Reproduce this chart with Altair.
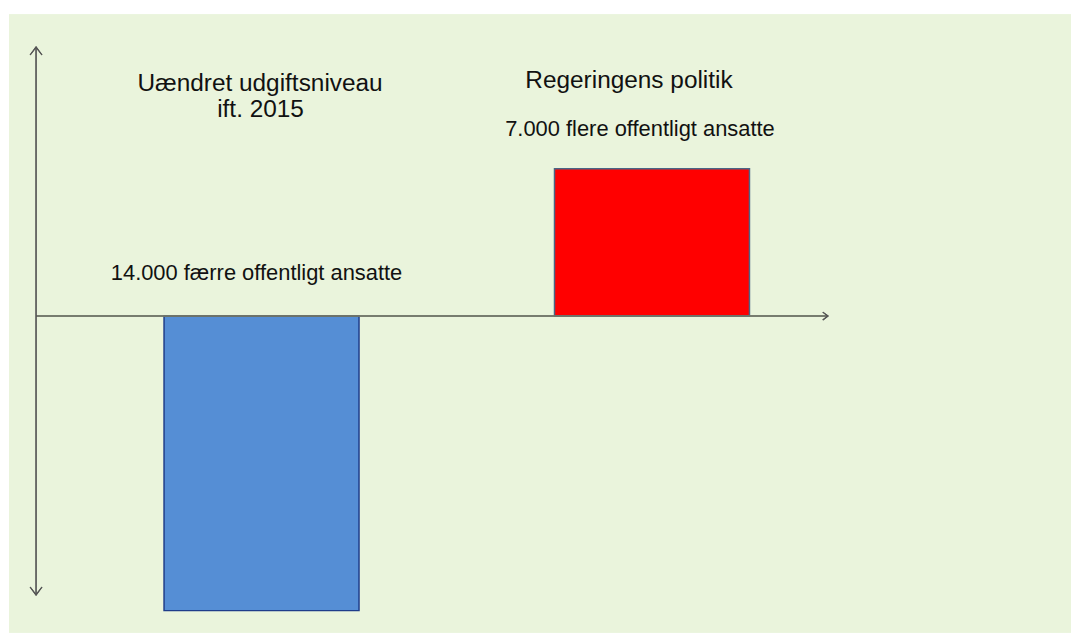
import altair as alt
import pandas as pd

# ---- data ----
categories = ["Uændret udgiftsniveau ift. 2015", "Regeringens politik"]
positions = [0, 1]
values = [-14000, 7000]
title_lines = [["Uændret udgiftsniveau", "ift. 2015"], ["Regeringens politik"]]
value_labels = ["14.000 færre offentligt ansatte", "7.000 flere offentligt ansatte"]

df = pd.DataFrame({"cat": categories, "pos": positions, "val": values,
                   "label": value_labels})

W, H = 1071, 627
S = 1079 / 1087.0  # page is shrunk horizontally to fit the window width


def cx(p):
    return p / S - 8


def cy(p):
    return p - 8


def sz(v):
    return v / S


x_a, x_b = cx(261.5), cx(652)
px_per_cat = x_b - x_a
x0 = -x_a / px_per_cat
xscale = alt.Scale(domain=[x0, x0 + W / px_per_cat], nice=False, zero=False, padding=0)
k = 0.0212
y1 = cy(316) / k
yscale = alt.Scale(domain=[y1 - H / k, y1], nice=False, zero=False)

FONT = "Liberation Sans"
TXT = "#111111"
AXC = "#6f7568"
ARC = "#555555"

bg = alt.Chart(df).mark_rect(color="#eaf4dc").encode(
    x=alt.value(cx(9)), x2=alt.value(W), y=alt.value(cy(12)), y2=alt.value(H))

bars = alt.Chart(df).mark_bar(width=sz(195), strokeWidth=1.5).encode(
    x=alt.X("pos:Q", scale=xscale, axis=None),
    y=alt.Y("val:Q", scale=yscale, axis=None),
    y2=alt.datum(0),
    color=alt.Color("cat:N", scale=alt.Scale(domain=categories, range=["#558ed5", "#ff0000"]), legend=None),
    stroke=alt.Stroke("cat:N", scale=alt.Scale(domain=categories, range=["#1f3d8a", "#4a6585"]), legend=None),
)

haxis = alt.Chart(df).mark_rule(color=AXC, strokeWidth=1.5).encode(
    y=alt.datum(0, scale=yscale), x=alt.value(cx(36)), x2=alt.value(cx(828)))
vaxis = alt.Chart(df).mark_rule(color=ARC, strokeWidth=1.2).encode(
    x=alt.value(cx(36)), y=alt.value(cy(45)), y2=alt.value(cy(597)))

up = alt.Chart(df).mark_point(shape="M-0.75,1L0,0L0.75,1", size=256, filled=False,
                              color=ARC, strokeWidth=1.2, opacity=1).encode(
    x=alt.value(cx(36)), y=alt.value(cy(45)))
down = alt.Chart(df).mark_point(shape="M-0.75,-1L0,0L0.75,-1", size=256, filled=False,
                                color=ARC, strokeWidth=1.2, opacity=1).encode(
    x=alt.value(cx(36)), y=alt.value(cy(597)))
right = alt.Chart(df).mark_point(shape="M-1,-0.75L0,0L-1,0.75", size=110, filled=False,
                                 color=ARC, strokeWidth=1.2, opacity=1).encode(
    x=alt.value(cx(828)), y=alt.datum(0, scale=yscale))


def txt(i, text, ypage, dx, size):
    return alt.Chart(df).transform_filter(alt.datum.pos == positions[i]).mark_text(
        font=FONT, fontSize=sz(size), color=TXT, align="center", baseline="alphabetic",
        dx=sz(dx), text=text).encode(
        x=alt.X("pos:Q", scale=xscale), y=alt.value(cy(ypage)))


def lab(i, ypage, dx, size):
    return alt.Chart(df).transform_filter(alt.datum.pos == positions[i]).mark_text(
        font=FONT, fontSize=sz(size), color=TXT, align="center", baseline="alphabetic",
        dx=sz(dx)).encode(
        x=alt.X("pos:Q", scale=xscale), y=alt.value(cy(ypage)), text="label:N")


t1a = txt(0, title_lines[0][0], 89, -1.5, 24.4)
t1b = txt(0, title_lines[0][1], 115, -1, 24.4)
t2 = txt(1, title_lines[1][0], 86, -23, 24.4)
l1 = lab(0, 280, -5, 21.9)
l2 = lab(1, 135, -12, 21.9)

chart = alt.layer(bg, bars, haxis, vaxis, up, down, right, t1a, t1b, t2, l1, l2).properties(
    width=W, height=H, padding=0, autosize=alt.AutoSizeParams(type="none"),
    background="white",
).configure_view(stroke=None)

chart.save("out.html", embed_options={"renderer": "svg", "actions": False})
